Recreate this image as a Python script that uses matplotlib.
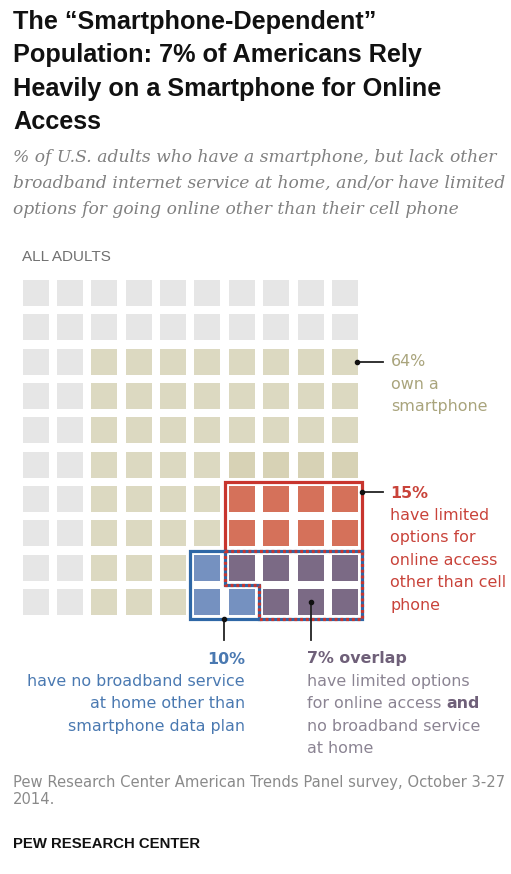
import matplotlib
matplotlib.use("Agg")
import matplotlib.pyplot as plt
from matplotlib.patches import Rectangle
import numpy as np

# ---- data ---------------------------------------------------------------
title_lines = ["The \u201cSmartphone-Dependent\u201d",
               "Population: 7% of Americans Rely",
               "Heavily on a Smartphone for Online",
               "Access"]
subtitle_lines = ["% of U.S. adults who have a smartphone, but lack other",
                  "broadband internet service at home, and/or have limited",
                  "options for going online other than their cell phone"]

# one letter per adult in a 10x10 waffle (1 cell = 1%)
# g = no smartphone, t = smartphone only, r = limited options,
# b = no broadband, p = overlap of r and b
waffle = ["gggggggggg",
          "gggggggggg",
          "ggtttttttt",
          "ggtttttttt",
          "ggtttttttt",
          "ggttttdddd",
          "ggttttrrrr",
          "ggttttrrrr",
          "ggtttbpppp",
          "ggtttbbppp"]

pct_smartphone = 64
pct_limited = 15
pct_no_broadband = 10
pct_overlap = 7

smart_lines = ["own a", "smartphone"]
limited_lines = ["have limited", "options for", "online access",
                 "other than cell", "phone"]
broadband_lines = ["have no broadband service", "at home other than",
                   "smartphone data plan"]
overlap_lines = ["have limited options", "for online access ",
                 "no broadband service", "at home"]

cell_colors = {"g": "#e6e6e6", "t": "#dcd9c1", "d": "#d7d2b5",
               "r": "#d5715a", "p": "#7b6a85", "b": "#7591c0"}

RED = "#c8352e"
BLUE = "#2e67a6"
TAN_TXT = "#a9a47c"
RED_TXT = "#c9433a"
BLUE_TXT = "#4a79b1"
PURP_TXT = "#6f6079"
PURP_LT = "#8b8493"

# ---- figure -------------------------------------------------------------
W, H = 511, 874
fig = plt.figure(figsize=(W / 100, H / 100), dpi=100)
ax = fig.add_axes([0, 0, 1, 1])
ax.set_xlim(0, W)
ax.set_ylim(H, 0)
ax.axis("off")

sans = "Liberation Sans"
ann_font = "DejaVu Sans"

for i, line in enumerate(title_lines):
    ax.text(13, 22 + i * 33.3, line, fontsize=18.2, fontweight="bold",
            family=sans, va="center", ha="left", color="#111111")

for i, line in enumerate(subtitle_lines):
    ax.text(13, 157 + i * 26.5, line, fontsize=12.3, style="italic",
            family="DejaVu Serif", va="center", ha="left", color="#808080")

ax.text(22, 257, "ALL ADULTS", fontsize=11, family=sans, va="center",
        color="#707070")

# waffle grid
x0, y0 = 22.7, 280.0
pitch = 34.35
size = 26.0
gap = pitch - size

for r, row in enumerate(waffle):
    for c, key in enumerate(row):
        ax.add_patch(Rectangle((x0 + c * pitch, y0 + r * pitch), size, size,
                               facecolor=cell_colors[key], edgecolor="none"))


def gx(c):
    return x0 + c * pitch - gap / 2


def gy(r):
    return y0 + r * pitch - gap / 2


lw = 2.3
# red outline (limited options only part)
ax.plot([gx(6), gx(6), gx(10), gx(10)], [gy(8), gy(6), gy(6), gy(8)],
        color=RED, lw=lw, solid_joinstyle="miter")
# blue outline (no broadband only part)
ax.plot([gx(6), gx(5), gx(5), gx(7)], [gy(8), gy(8), gy(10), gy(10)],
        color=BLUE, lw=lw, solid_joinstyle="miter")
# overlap outline: blue with red dashes on top
ov_x = [gx(6), gx(10), gx(10), gx(7), gx(7), gx(6), gx(6)]
ov_y = [gy(8), gy(8), gy(10), gy(10), gy(9), gy(9), gy(8)]
ax.plot(ov_x, ov_y, color=BLUE, lw=lw, solid_joinstyle="miter")
ax.plot(ov_x, ov_y, color=RED, lw=lw, dashes=(0.9, 0.9))


# leader lines
def leader(xs, ys):
    ax.plot(xs, ys, color="#222222", lw=1.3)
    ax.plot(xs[0], ys[0], "o", color="#111111", ms=3)


cy_smart = y0 + 2 * pitch + size / 2
leader([x0 + 9 * pitch + size - 1, 383], [cy_smart, cy_smart])
cy_lim = y0 + 6 * pitch + 6
leader([gx(10), 383], [cy_lim, cy_lim])
cx_b = x0 + 5 * pitch + size + gap / 2 - 0.5
leader([cx_b, cx_b], [gy(10), 640])
cx_p = x0 + 8 * pitch + size / 2
leader([cx_p, cx_p], [y0 + 9 * pitch + size / 2, 640])

ann = 11.4
step = 22.4
ax.text(391, cy_smart, f"{pct_smartphone}%", fontsize=ann, family=ann_font,
        va="center", color=TAN_TXT)
for i, line in enumerate(smart_lines):
    ax.text(391, cy_smart + step * (i + 1), line, fontsize=ann,
            family=ann_font, va="center", color=TAN_TXT)

ax.text(390, cy_lim + 1, f"{pct_limited}%", fontsize=ann, family=ann_font,
        fontweight="bold", va="center", color=RED_TXT)
for i, line in enumerate(limited_lines):
    ax.text(390, cy_lim + 1 + step * (i + 1), line, fontsize=ann,
            family=ann_font, va="center", color=RED_TXT)

ax.text(245, 659, f"{pct_no_broadband}%", fontsize=ann, family=ann_font,
        fontweight="bold", va="center", ha="right", color=BLUE_TXT)
for i, line in enumerate(broadband_lines):
    ax.text(245, 659 + step * (i + 1), line, fontsize=ann, family=ann_font,
            va="center", ha="right", color=BLUE_TXT)

ax.text(307, 659, f"{pct_overlap}% overlap", fontsize=ann, family=ann_font,
        fontweight="bold", va="center", color=PURP_TXT)
fig.canvas.draw()
for i, line in enumerate(overlap_lines):
    t = ax.text(307, 659 + step * (i + 1), line, fontsize=ann,
                family=ann_font, va="center", color=PURP_LT)
    if i == 1:
        bb = t.get_window_extent(renderer=fig.canvas.get_renderer())
        ax.text(bb.x1, 659 + step * 2, "and", fontsize=ann, family=ann_font,
                fontweight="bold", va="center", color=PURP_TXT)

ax.text(13, 783, "Pew Research Center American Trends Panel survey, October 3-27",
        fontsize=10.6, family=ann_font, va="center", color="#8a8a8a")
ax.text(13, 800, "2014.", fontsize=10.6, family=ann_font, va="center",
        color="#8a8a8a")
ax.text(13, 844, "PEW RESEARCH CENTER", fontsize=10.7, family=sans,
        fontweight="bold", va="center", color="#111111")

fig.savefig("out.png", dpi=100)
